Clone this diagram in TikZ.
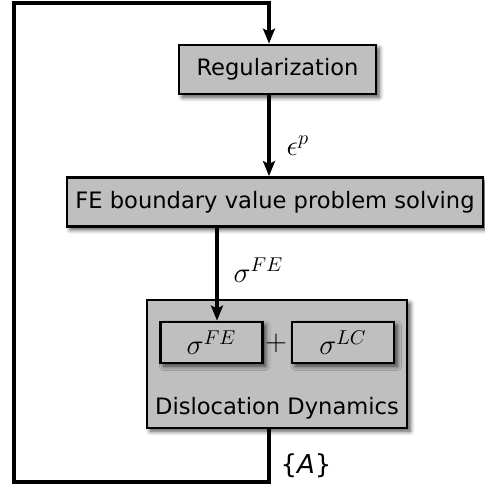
\documentclass[tikz,border=0pt]{standalone}
\usepackage{amsmath}
\usepackage{fontspec}
\setmainfont{DejaVu Sans}
\usepackage{tikz}
\usetikzlibrary{arrows.meta, shadows.blur}

\begin{document}
\begin{tikzpicture}[
            x = 0.5pt, y = -0.5pt, % one unit per pixel
            > = {Stealth[length=7.5pt, width=6pt, inset=1.5pt]}, % arrow head style
            flow/.style = {->, line width=2pt}, % connector style
            semithick % line style
        ]

        \tikzstyle{block}=[
            draw = black,
            line width = 1.4pt,
            fill = black!25,
            inner sep = 0pt,
            font = \fontsize{11.3}{13}\selectfont,
            blur shadow = {shadow xshift=1.6pt, shadow yshift=-1.6pt, shadow blur steps=6, shadow opacity=70}
        ]

        \useasboundingbox (0,0) rectangle (485,486);

        \node[block, minimum width=98.5pt, minimum height=24.5pt] (reg) at (277.5,69.5) {Regularization};
        \node[block, minimum width=208pt, minimum height=24.5pt] (fe) at (275,202) {FE boundary value problem solving};
        \node[block, minimum width=130pt, minimum height=64pt] (dd) at (277,364) {};
        \node[block, minimum width=51pt, minimum height=20.5pt] (sfe) at (211.5,342.5) {\Large $\sigma^{FE}$};
        \node[block, minimum width=51pt, minimum height=20.5pt] (slc) at (343,342.5) {\Large $\sigma^{LC}$};
        \node (plus) at (276,343) {\Large $+$};
        \node[font=\fontsize{11.3}{13}\selectfont] (ddlabel) at (277,408) {Dislocation Dynamics};

        \coordinate (spine) at (269,0);
        \coordinate (drop) at (217,0);
        \coordinate (tl) at (14,3);
        \coordinate (bl) at (14,482);

        \draw[flow] (reg.south -| spine) -- node[right, xshift=4.5pt, yshift=-5pt] {\Large $\epsilon^p$} (fe.north -| spine);
        \draw[flow] (fe.south -| drop) -- node[right, xshift=4pt, yshift=2pt] {\Large $\sigma^{FE}$} (sfe.north -| drop);
        \draw[flow] (dd.south -| spine) -- node[right, xshift=1.5pt, pos=0.7] {\fontsize{13}{15}\selectfont\{\textit{A}\}} (bl -| spine) -- (bl) -- (tl) -| (reg.north -| spine);

  \end{tikzpicture}
\end{document}
